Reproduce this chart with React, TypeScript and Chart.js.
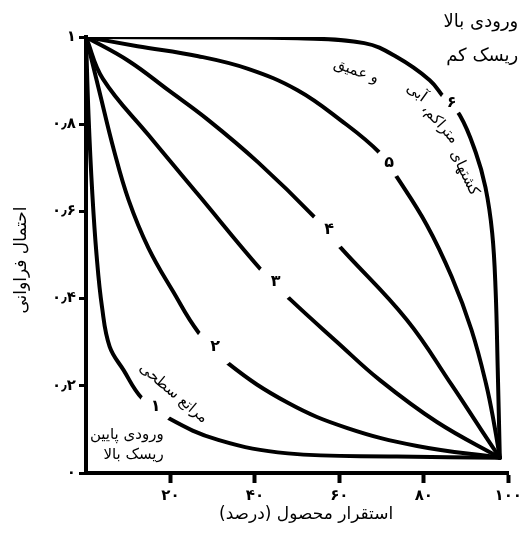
import React, { useEffect, useRef } from 'react';
import { Chart, registerables } from 'chart.js';

Chart.register(...registerables);

// Axis ticks (crop establishment % on x, frequency probability on y)
const xTickValues = [20, 40, 60, 80, 100];
const xTickLabels = ['۲۰', '۴۰', '۶۰', '۸۰', '۱۰۰'];
const yTickValues = [0, 0.2, 0.4, 0.6, 0.8, 1];
const yTickLabels = ['۰', '۰٫۲', '۰٫۴', '۰٫۶', '۰٫۸', '۱'];

// Curve 1: shallow rangelands (low input, high risk)
const curve1X = [0, 0.6, 1.5, 2.5, 3.8, 5.6, 8.9, 13.2, 19.5, 31.3, 47.8, 73.6, 98];
const curve1Y = [1, 0.82, 0.64, 0.5, 0.38, 0.29, 0.236, 0.172, 0.126, 0.076, 0.045, 0.038, 0.035];

const curve2X = [0, 3.1, 6.6, 10.1, 14.8, 20.7, 26.6, 33.6, 47.8, 61.9, 78.4, 98];
const curve2Y = [1, 0.878, 0.741, 0.626, 0.516, 0.415, 0.323, 0.252, 0.161, 0.103, 0.062, 0.035];

const curve3X = [0, 4.0, 14.8, 26.6, 41.9, 48.5, 59.5, 69.6, 83.1, 98];
const curve3Y = [1, 0.904, 0.775, 0.638, 0.461, 0.397, 0.3, 0.213, 0.117, 0.035];

const curve4X = [0, 10.1, 19.5, 28.9, 40.7, 54.1, 60.2, 76, 86.6, 93.6, 98];
const curve4Y = [1, 0.945, 0.878, 0.81, 0.713, 0.587, 0.518, 0.351, 0.202, 0.099, 0.035];

const curve5X = [0, 12.2, 26.6, 38.4, 50.1, 60.2, 69.6, 73.6, 80.7, 86.6, 91.3, 94.8, 96.7, 98];
const curve5Y = [1, 0.979, 0.956, 0.927, 0.878, 0.81, 0.734, 0.679, 0.569, 0.45, 0.328, 0.202, 0.11, 0.035];

// Curve 6: dense, irrigated and deep cropping (high input, low risk)
const curve6X = [0, 25, 50.1, 65.9, 73.6, 81.4, 84.7, 88.5, 92.3, 94.6, 96.2, 97.0, 97.5, 98];
const curve6Y = [1, 0.999, 0.997, 0.986, 0.954, 0.901, 0.862, 0.821, 0.735, 0.655, 0.55, 0.42, 0.24, 0.035];

const curveXs = [curve1X, curve2X, curve3X, curve4X, curve5X, curve6X];
const curveYs = [curve1Y, curve2Y, curve3Y, curve4Y, curve5Y, curve6Y];

// Curve numbers, written in the break of each line
const curveNames = ['۱', '۲', '۳', '۴', '۵', '۶'];
const curveNameX = [16.5, 30.6, 44.9, 57.6, 71.8, 86.6];
const curveNameY = [0.151, 0.289, 0.438, 0.557, 0.711, 0.849];
const curveGap = [17, 21, 20, 20, 15, 12];

const FONT = '"DejaVu Sans", sans-serif';

const textPlugin = {
  id: 'persianText',
  afterDatasetsDraw(chart: any) {
    const { ctx, scales, chartArea } = chart;
    const xs = scales.x;
    const ys = scales.y;
    const px = (v: number) => xs.getPixelForValue(v);
    const py = (v: number) => ys.getPixelForValue(v);

    ctx.save();
    ctx.textAlign = 'center';
    ctx.textBaseline = 'middle';

    // breaks in the curves with their numbers
    curveNames.forEach((name, i) => {
      const cx = px(curveNameX[i]);
      const cy = py(curveNameY[i]);
      ctx.fillStyle = '#fff';
      ctx.beginPath();
      ctx.arc(cx, cy, curveGap[i], 0, Math.PI * 2);
      ctx.fill();
      ctx.fillStyle = '#000';
      ctx.font = `bold 16px ${FONT}`;
      ctx.fillText(name, cx, cy);
    });

    const rotated = (t: string, x: number, y: number, deg: number, size: number) => {
      ctx.save();
      ctx.translate(px(x), py(y));
      ctx.rotate((deg * Math.PI) / 180);
      ctx.direction = 'rtl';
      ctx.font = `${size}px ${FONT}`;
      ctx.fillStyle = '#000';
      ctx.textAlign = 'center';
      ctx.fillText(t, 0, 0);
      ctx.restore();
    };

    // label running along curve 6
    rotated('کشتهای', 89.6, 0.688, 64, 15);
    rotated('متراکم،', 83.8, 0.8, 48, 15);
    rotated('آبی', 78.2, 0.872, 36, 15);
    rotated('و عمیق', 64.0, 0.921, 20, 15);

    // label along curve 1
    rotated('مراتع سطحی', 20.7, 0.183, 40, 15);

    ctx.direction = 'rtl';
    ctx.fillStyle = '#000';
    ctx.textAlign = 'right';
    ctx.font = `15px ${FONT}`;
    ctx.fillText('ورودی پایین', px(18.4), py(0.087));
    ctx.fillText('ریسک بالا', px(18.4), py(0.041));

    ctx.font = `18px ${FONT}`;
    ctx.fillText('ورودی بالا', chartArea.right + 10, chartArea.top - 15);
    ctx.fillText('ریسک کم', chartArea.right + 10, chartArea.top + 19);

    // axis titles
    ctx.textAlign = 'center';
    ctx.font = `17px ${FONT}`;
    ctx.fillText('استقرار محصول (درصد)', (chartArea.left + chartArea.right) / 2 + 9, chartArea.bottom + 42);

    ctx.save();
    ctx.translate(22, (chartArea.top + chartArea.bottom) / 2 + 5);
    ctx.rotate(-Math.PI / 2);
    ctx.fillText('احتمال فراوانی', 0, 0);
    ctx.restore();

    ctx.restore();
  },
};

export default function App() {
  const canvasRef = useRef<HTMLCanvasElement | null>(null);

  useEffect(() => {
    const canvas = canvasRef.current;
    if (!canvas) return;

    const datasets = curveXs.map((xsArr, i) => ({
      label: `curve ${i + 1}`,
      data: xsArr.map((x, j) => ({ x, y: curveYs[i][j] })),
      borderColor: '#000',
      borderWidth: 4,
      pointRadius: 0,
      fill: false,
      tension: 0.4,
      borderCapStyle: 'round' as const,
      borderJoinStyle: 'round' as const,
    }));

    const chart = new Chart(canvas, {
      type: 'line',
      data: { datasets },
      options: {
        animation: false,
        responsive: false,
        devicePixelRatio: 1,
        layout: { padding: { top: 37, right: 14, left: 0, bottom: 0 } },
        plugins: {
          legend: { display: false },
          tooltip: { enabled: false },
        },
        scales: {
          x: {
            type: 'linear',
            min: 0,
            max: 100,
            afterBuildTicks: (s: any) => {
              s.ticks = xTickValues.map((v) => ({ value: v }));
            },
            afterFit: (s: any) => {
              s.height = 60;
            },
            border: { display: true, color: '#000', width: 4 },
            grid: {
              display: true,
              drawOnChartArea: false,
              drawTicks: true,
              tickLength: 10,
              tickWidth: 4,
              tickColor: '#000',
            },
            ticks: {
              autoSkip: false,
              maxRotation: 0,
              color: '#000',
              padding: 4,
              font: { family: 'DejaVu Sans', size: 15, weight: 'bold' },
              callback: (v: any) => {
                const k = xTickValues.indexOf(Number(v));
                return k >= 0 ? xTickLabels[k] : '';
              },
            },
          },
          y: {
            type: 'linear',
            min: 0,
            max: 1,
            afterBuildTicks: (s: any) => {
              s.ticks = yTickValues.map((v) => ({ value: v }));
            },
            afterFit: (s: any) => {
              s.width = 86;
            },
            border: { display: true, color: '#000', width: 4 },
            grid: {
              display: true,
              drawOnChartArea: false,
              drawTicks: true,
              tickLength: 7,
              tickWidth: 3,
              tickColor: '#000',
            },
            ticks: {
              autoSkip: false,
              color: '#000',
              padding: 3,
              font: { family: 'DejaVu Sans', size: 15, weight: 'bold' },
              callback: (v: any) => {
                const k = yTickValues.findIndex((t) => Math.abs(t - Number(v)) < 1e-6);
                return k >= 0 ? yTickLabels[k] : '';
              },
            },
          },
        },
      },
      plugins: [textPlugin],
    });

    return () => chart.destroy();
  }, []);

  return (
    <div style={{ position: 'fixed', left: 0, top: 0, width: 526, height: 533, background: '#fff' }}>
      <canvas ref={canvasRef} width={526} height={533} />
    </div>
  );
}
